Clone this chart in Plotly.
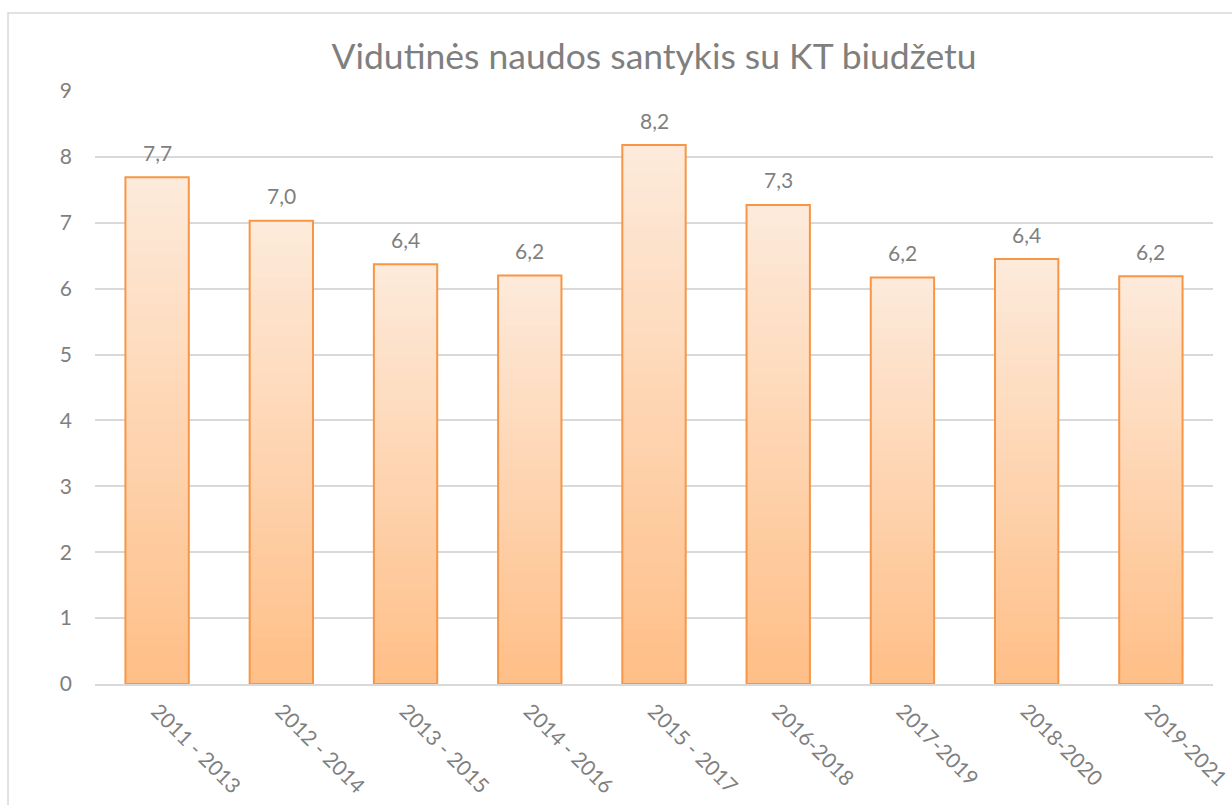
import plotly.graph_objects as go

categories = ["2011 - 2013", "2012 - 2014", "2013 - 2015", "2014 - 2016", "2015 - 2017",
              "2016-2018", "2017-2019", "2018-2020", "2019-2021"]
values = [7.69, 7.03, 6.37, 6.2, 8.18, 7.27, 6.17, 6.45, 6.19]
value_labels = ["7,7", "7,0", "6,4", "6,2", "8,2", "7,3", "6,2", "6,4", "6,2"]

TOP = (253, 234, 218)
BOTTOM = (255, 190, 134)
N = 40

fig = go.Figure()
for k in range(N):
    frac = (N - k) / N  # visible top fraction of this layer
    c = tuple(round(BOTTOM[i] + (TOP[i] - BOTTOM[i]) * frac) for i in range(3))
    fig.add_trace(go.Bar(
        x=categories, y=[v * frac for v in values],
        marker=dict(color="rgb(%d,%d,%d)" % c, line=dict(width=0)),
        hoverinfo="skip", showlegend=False,
    ))
fig.add_trace(go.Bar(
    x=categories, y=values,
    marker=dict(color="rgba(0,0,0,0)", line=dict(color="#F79646", width=2)),
    showlegend=False,
))
for c, v, t in zip(categories, values, value_labels):
    fig.add_annotation(x=c, y=v, text=t, showarrow=False, yshift=25,
                       font=dict(size=21, color="#7F7F7F"))

fig.add_shape(type="rect", xref="paper", yref="paper",
              x0=-0.0778, x1=1.1, y0=-0.5, y1=1.1315,
              line=dict(color="#D9D9D9", width=1.5), layer="below")

fig.update_layout(
    width=1232, height=805,
    barmode="overlay", bargap=0.49,
    paper_bgcolor="white", plot_bgcolor="white",
    margin=dict(l=95, r=19, t=91, b=121, autoexpand=False),
    font=dict(family="Lato, Open Sans, sans-serif", color="#7F7F7F"),
    title=dict(text="Vidutinės naudos santykis su KT biudžetu", x=0.5, xref="paper",
               y=1 - 57 / 805, yanchor="middle",
               font=dict(size=35.5, color="#7F7F7F")),
    xaxis=dict(tickangle=45, tickfont=dict(size=21, color="#7F7F7F"), automargin=False,
               showline=True, linecolor="#D9D9D9", linewidth=1.5, ticks="",
               ticklabelstandoff=5),
    yaxis=dict(range=[0, 9], dtick=1, tickfont=dict(size=21, color="#7F7F7F"),
               automargin=False,
               gridcolor="#D9D9D9", gridwidth=1.5, zeroline=False, ticks="",
               ticklabelstandoff=22),
)
fig.write_html("out.html", config={"displayModeBar": False},
               post_script="document.body.style.margin='0';")
